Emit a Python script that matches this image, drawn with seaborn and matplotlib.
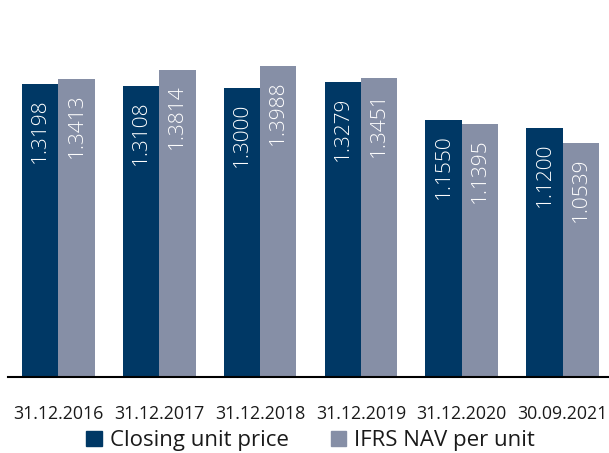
import matplotlib
matplotlib.use("Agg")
import matplotlib.pyplot as plt
import seaborn as sns
import pandas as pd

# data
dates = ['31.12.2016', '31.12.2017', '31.12.2018', '31.12.2019', '31.12.2020', '30.09.2021']
closing_price = [1.3198, 1.3108, 1.3000, 1.3279, 1.1550, 1.1200]
nav_per_unit = [1.3413, 1.3814, 1.3988, 1.3451, 1.1395, 1.0539]
series = ['Closing unit price', 'IFRS NAV per unit']
colors = ['#003865', '#868fa6']

df = pd.DataFrame({
    'date': dates * 2,
    'value': closing_price + nav_per_unit,
    'series': [series[0]] * len(dates) + [series[1]] * len(dates),
})

sns.set_style('white')
plt.rcParams['font.family'] = ['Open Sans', 'DejaVu Sans']

fig = plt.figure(figsize=(6.09, 4.53), dpi=100)
ax = fig.add_axes([0.013, 0.168, 0.987, 0.832])

sns.barplot(data=df, x='date', y='value', hue='series', palette=colors,
            width=0.72, saturation=1, linewidth=0, ax=ax, legend=False)

# value labels inside the bars, rotated
for cont in ax.containers:
    for bar in cont:
        h = bar.get_height()
        ax.text(bar.get_x() + bar.get_width() / 2, h - 0.065, f'{h:.4f}',
                rotation=90, ha='center', va='top', color='white',
                fontsize=15, fontweight='light')

ax.set_xlim(-0.5, 5.46)
ax.set_ylim(0, 1.696)
ax.set_xlabel('')
ax.set_ylabel('')
ax.set_yticks([])
for side in ['top', 'right', 'left']:
    ax.spines[side].set_visible(False)
ax.spines['bottom'].set_color('black')
ax.spines['bottom'].set_linewidth(1.5)
ax.tick_params(axis='x', length=0, pad=20, labelsize=12.8, labelcolor='#1a1a1a')

handles = [plt.Rectangle((0, 0), 1, 1, color=c) for c in colors]
fig.legend(handles, series, loc='center', bbox_to_anchor=(0.51, 0.027), ncol=2,
           frameon=False, fontsize=16, handlelength=0.7, handleheight=0.7,
           handletextpad=0.35, columnspacing=1.9, borderaxespad=0,
           labelcolor='#1a1a1a')

fig.savefig('out.png', dpi=100)
